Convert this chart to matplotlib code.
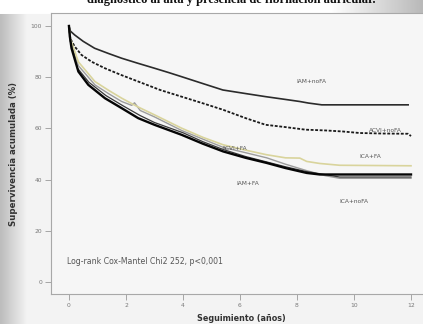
"""Kaplan-Meier style survival curves by diagnosis and atrial fibrillation."""

import numpy as np
import matplotlib
matplotlib.use("Agg")
import matplotlib.pyplot as plt

# --- data ---
t_iam_nofa = [0, 0.05, 0.2, 0.5, 0.9, 1.4, 1.85, 2.4, 3.0, 3.5, 3.95, 4.7, 5.4,
              6.2, 6.9, 7.6, 8.1, 8.4, 8.87, 9.5, 10.5, 11.9]
s_iam_nofa = [100, 98, 96.5, 94, 91.3, 89.2, 87.4, 85.5, 83.5, 81.8, 80.2, 77.5, 75,
              73.6, 72.4, 71.3, 70.5, 69.9, 69.2, 69.2, 69.2, 69.2]

t_acvi_nofa = [0, 0.05, 0.2, 0.44, 0.8, 1.26, 1.8, 2.43, 3.2, 3.95, 4.7, 5.4, 6.2,
               6.9, 7.6, 8.3, 9.0, 9.6, 10.2, 11.0, 11.9, 12.0]
s_acvi_nofa = [100, 95, 92, 88.7, 86, 83.5, 81, 78.3, 75, 72.4, 69.8, 67.3, 64,
               61.4, 60.5, 59.5, 59.2, 58.8, 58.2, 58, 57.9, 57]

t_ica_fa = [0, 0.05, 0.33, 0.91, 1.4, 1.85, 2.4, 3.0, 3.95, 4.7, 5.41, 6.2, 6.94,
            7.6, 8.1, 8.34, 8.8, 9.5, 12.0]
s_ica_fa = [100, 95, 86, 78.3, 74.8, 71.8, 68.5, 65.3, 60.1, 56.5, 53.6, 51.5, 49.7,
            48.5, 48.4, 47.1, 46.3, 45.6, 45.4]

t_acvi_fa = [0, 0.05, 0.33, 0.91, 1.4, 1.85, 2.2, 2.3, 2.5, 3.0, 3.95, 4.7, 5.41,
             6.2, 6.94, 7.6, 8.34, 9.0, 9.5, 12.0]
s_acvi_fa = [100, 94, 84.5, 77, 73.5, 70.5, 69, 70, 67, 64.5, 59.2, 55.8, 52.6,
             50.5, 48.5, 46, 43.5, 41.5, 40.5, 40.5]

t_ica_nofa = [0, 0.05, 0.3, 0.7, 1.3, 1.9, 2.5, 3.0, 4.0, 4.7, 5.4, 6.2, 6.9,
              7.6, 8.3, 8.8, 9.5, 10.0, 12.0]
s_ica_nofa = [100, 94, 83.5, 78, 72.8, 68.8, 65, 62.3, 58.3, 54.8, 51.8, 49, 47,
              45, 43.2, 42.3, 41, 41, 41]

t_iam_fa = [0, 0.03, 0.09, 0.33, 0.68, 1.26, 1.85, 2.43, 3.0, 3.95, 4.7, 5.41,
            6.2, 6.94, 7.6, 8.34, 8.8, 9.5, 12.0]
s_iam_fa = [100, 96, 91.3, 82.2, 77, 71.8, 67.9, 64, 61.4, 57.5, 54, 51,
            48.5, 46.5, 44.5, 42.6, 42, 42, 42]

curve_labels = ["IAM+noFA", "ACVI+noFA", "ACVI+FA", "ICA+FA", "IAM+FA", "ICA+noFA"]
label_x = [8.5, 11.1, 5.82, 10.56, 6.28, 10.0]
label_y = [78.2, 59.0, 52.0, 49.0, 38.4, 31.5]

x_ticks = [0, 2, 4, 6, 8, 10, 12]
y_ticks = [0, 20, 40, 60, 80, 100]

title = "diagnóstico al alta y presencia de fibrilación auricular."
stats_text = "Log-rank Cox-Mantel Chi2 252, p<0,001"

W, H = 423, 324
fig = plt.figure(figsize=(W / 100, H / 100), dpi=100)
fig.patch.set_facecolor("#f1f1f1")

# white page strip at the top and gray shading on the left / top right
bg = fig.add_axes([0, 0, 1, 1], zorder=-5)
bg.set_axis_off()
grad = np.ones((H, W))
xs = np.arange(W)
left = np.clip(xs / 26.0, 0, 1)
grad *= (0.74 + 0.21 * left)[None, :]
right = np.clip((xs - 330) / 93.0, 0, 1)
grad[:14, :] = (1.0 - 0.28 * right)[None, :]
bg.imshow(grad, cmap="gray", vmin=0, vmax=1, aspect="auto",
          extent=[0, 1, 0, 1], transform=bg.transAxes)

fig.text(231 / W, 1 - 3.5 / H, title, ha="center", va="baseline",
         family="Liberation Serif", fontweight="bold", fontsize=9, color="#111")

ax = fig.add_axes([51 / W, 1 - 294 / H, (432 - 51) / W, (294 - 13) / H])
ax.set_facecolor("#f6f6f6")
ax.set_xlim(-0.63, (432 - 69) / 28.5)
ax.set_ylim(-4.68, 105.07)

ax.plot(t_iam_nofa, s_iam_nofa, color="#2b2b2b", lw=1.2)
ax.plot(t_acvi_nofa, s_acvi_nofa, color="#1a1a1a", lw=1.3, ls=(0, (1.6, 0.9)))
ax.plot(t_acvi_fa, s_acvi_fa, color="#9c9c9c", lw=1.0)
ax.plot(t_ica_fa, s_ica_fa, color="#d9d49c", lw=1.2)
ax.plot(t_ica_nofa, s_ica_nofa, color="#3a3a3a", lw=0.9)
ax.plot(t_iam_fa, s_iam_fa, color="#050505", lw=1.7)

for lab, lx, ly in zip(curve_labels, label_x, label_y):
    ax.text(lx, ly, lab, ha="center", va="center", fontsize=4.2, color="#555")

ax.text(-0.07, 8.1, stats_text, ha="left", va="center", fontsize=5.6, color="#555")

ax.set_xticks(x_ticks)
ax.set_yticks(y_ticks)
ax.tick_params(axis="both", direction="out", length=4.5, width=0.6,
               colors="#999", labelsize=4.3, labelcolor="#777", pad=2)
for side in ["left", "bottom", "top"]:
    ax.spines[side].set_color("#a8a8a8")
    ax.spines[side].set_linewidth(0.8)
ax.spines["right"].set_visible(False)

ax.set_xlabel("Seguimiento (años)", fontsize=5.8, fontweight="bold", color="#333",
              family=["Liberation Sans Narrow", "DejaVu Sans"], labelpad=4)
ax.set_ylabel("Supervivencia acumulada (%)", fontsize=6.2, fontweight="bold",
              color="#333", labelpad=9)

fig.savefig("out.png", dpi=100)
